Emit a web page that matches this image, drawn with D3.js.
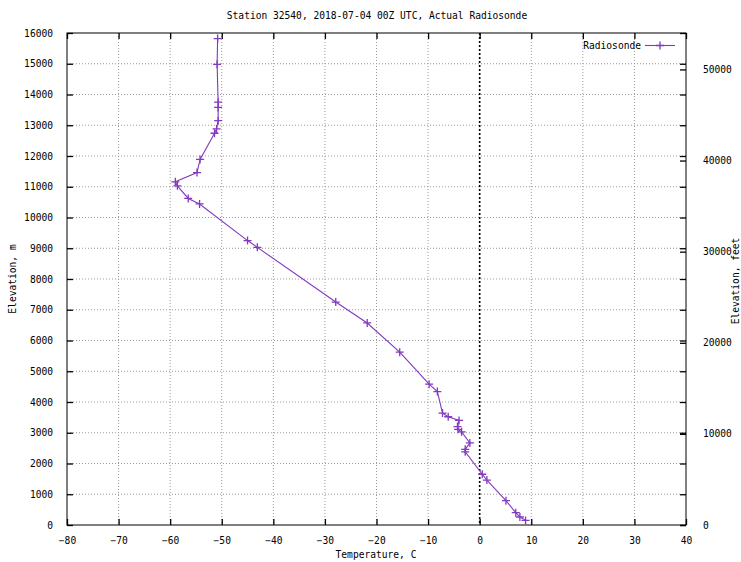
<!DOCTYPE html>
<html>
<head>
<meta charset="utf-8">
<script src="https://cdn.jsdelivr.net/npm/d3@7"></script>
<style>
html,body{margin:0;padding:0;background:#fff;}
text{font-family:"DejaVu Sans Mono",monospace;font-size:9.6px;fill:#000;}
</style>
</head>
<body>
<svg id="chart" width="741" height="562"></svg>
<script>
const title = "Station 32540, 2018-07-04 00Z UTC, Actual Radiosonde";
const seriesName = "Radiosonde";
const temperature = [8.9, 7.8, 7.0, 5.1, 1.4, 0.5, -2.8, -2.8, -1.9, -3.5, -4.2, -4.3, -4.0, -6.1, -7.2, -8.2, -9.8, -15.5, -21.8, -27.9, -43.1, -45.0, -54.3, -56.5, -58.6, -59.0, -54.8, -54.2, -51.4, -51.0, -50.7, -50.7, -50.7, -50.9, -50.8];
const elevation = [150, 260, 400, 790, 1460, 1650, 2380, 2460, 2670, 3030, 3110, 3200, 3400, 3520, 3640, 4340, 4580, 5620, 6570, 7250, 9030, 9250, 10440, 10620, 11030, 11160, 11460, 11890, 12740, 12880, 13150, 13580, 13750, 14980, 15820];
const xTicks = [-80, -70, -60, -50, -40, -30, -20, -10, 0, 10, 20, 30, 40];
const yTicks = [0, 1000, 2000, 3000, 4000, 5000, 6000, 7000, 8000, 9000, 10000, 11000, 12000, 13000, 14000, 15000, 16000];
const y2Ticks = [0, 10000, 20000, 30000, 40000, 50000];

const L = 67, R = 686, T = 33, B = 525;
const svg = d3.select("#chart");
const x = d3.scaleLinear().domain([-80, 40]).range([L, R]);
const y = d3.scaleLinear().domain([0, 16000]).range([B, T]);
const y2 = d3.scaleLinear().domain([0, 54000]).range([B, T]);
const color = "#8338c0";

// grid
const g = svg.append("g");
g.selectAll(".vg").data(xTicks.filter(d => d > -80 && d < 40 && d !== 0)).join("line")
  .attr("x1", d => x(d)).attr("x2", d => x(d)).attr("y1", T).attr("y2", B)
  .attr("stroke", "#9a9a9a").attr("stroke-width", 1).attr("stroke-dasharray", "1,2");
g.selectAll(".hg").data(yTicks.filter(d => d > 0 && d < 16000)).join("line")
  .attr("x1", L).attr("x2", R).attr("y1", d => y(d)).attr("y2", d => y(d))
  .attr("stroke", "#9a9a9a").attr("stroke-width", 1).attr("stroke-dasharray", "1,2");
// zero axis
g.append("line").attr("x1", x(0)).attr("x2", x(0)).attr("y1", T).attr("y2", B)
  .attr("stroke", "#000").attr("stroke-width", 1.6).attr("stroke-dasharray", "2,2");

// axes (ticks inward)
const tl = 6;
const axB = d3.axisBottom(x).tickValues(xTicks).tickSize(-tl).tickPadding(tl + 6).tickFormat(d3.format("d"));
const axT = d3.axisTop(x).tickValues(xTicks).tickSize(-tl).tickFormat("");
const axL = d3.axisLeft(y).tickValues(yTicks).tickSize(-tl).tickPadding(tl + 8).tickFormat(d3.format("d"));
const axR = d3.axisRight(y).tickValues(yTicks).tickSize(-tl).tickFormat("");
const axR2 = d3.axisRight(y2).tickValues(y2Ticks).tickSize(-tl).tickPadding(tl + 11).tickFormat(d3.format("d"));
function style(sel){ sel.select(".domain").remove(); sel.selectAll(".tick line").attr("stroke","#000").attr("stroke-width",1.3); sel.selectAll("text").attr("font-family","DejaVu Sans Mono").attr("font-size","9.6px"); }
svg.append("g").attr("transform", `translate(0,${B})`).call(axB).call(style);
svg.append("g").attr("transform", `translate(0,${T})`).call(axT).call(style);
svg.append("g").attr("transform", `translate(${L},0)`).call(axL).call(style);
svg.append("g").attr("transform", `translate(${R},0)`).call(axR).call(style);
svg.append("g").attr("transform", `translate(${R},0)`).call(axR2).call(style);

// border
svg.append("rect").attr("x", L).attr("y", T).attr("width", R - L).attr("height", B - T)
  .attr("fill", "none").attr("stroke", "#000").attr("stroke-width", 1);

// data
const data = temperature.map((t, i) => ({t, h: elevation[i]}));
const line = d3.line().x(d => x(d.t)).y(d => y(d.h));
svg.append("path").datum(data).attr("d", line).attr("fill", "none").attr("stroke", color).attr("stroke-width", 1.1);
const pts = svg.append("g");
const ps = 4;
data.forEach(d => {
  const cx = x(d.t), cy = y(d.h);
  pts.append("path").attr("d", `M${cx-ps},${cy}H${cx+ps}M${cx},${cy-ps}V${cy+ps}`)
    .attr("stroke", color).attr("stroke-width", 1.3).attr("fill", "none");
});

// legend
svg.append("text").attr("x", 641).attr("y", 49).attr("text-anchor", "end").text(seriesName);
svg.append("line").attr("x1", 645).attr("x2", 675).attr("y1", 45.5).attr("y2", 45.5).attr("stroke", color).attr("stroke-width", 1.1);
svg.append("path").attr("d", `M${660-ps},45.5H${660+ps}M660,${45.5-ps}V${45.5+ps}`).attr("stroke", color).attr("stroke-width", 1.3);

// titles
svg.append("text").attr("x", 377).attr("y", 19).attr("text-anchor", "middle").text(title);
svg.append("text").attr("x", 376).attr("y", 558).attr("text-anchor", "middle").text("Temperature, C");
svg.append("text").attr("transform", "translate(16,279) rotate(-90)").attr("text-anchor", "middle").text("Elevation, m");
svg.append("text").attr("transform", "translate(739,281) rotate(-90)").attr("text-anchor", "middle").text("Elevation, feet");
</script>
</body>
</html>
